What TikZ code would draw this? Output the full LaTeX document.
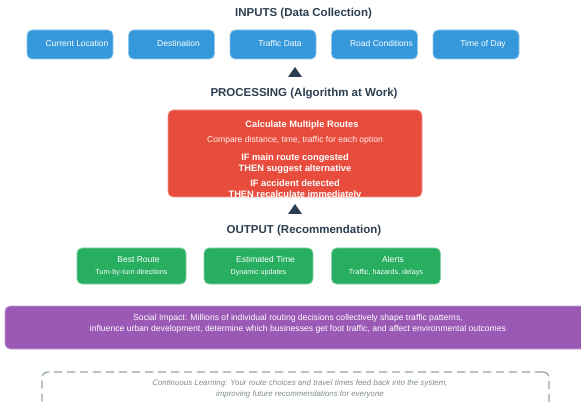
\documentclass[tikz,border=0pt]{standalone}
\usepackage{fontspec}
\setmainfont{Liberation Sans}
\usepackage{xcolor}
\definecolor{inblue}{HTML}{3498DB}
\definecolor{procred}{HTML}{E74C3C}
\definecolor{outgreen}{HTML}{27AE60}
\definecolor{impurple}{HTML}{9B59B6}
\definecolor{dark}{HTML}{2C3E50}
\definecolor{loopgray}{HTML}{95A5A6}
\definecolor{notegray}{HTML}{7F8C8D}
\usepackage{tikz}
\usetikzlibrary{
    arrows.meta,
    positioning,
    calc
}
\newcommand{\icongap}{\hspace*{14pt}}

\begin{document}
\begin{tikzpicture}[x=1pt, y=-1pt,
        stage/.style={font=\fontsize{11.5}{13}\selectfont\bfseries, text=dark},
        block/.style={rectangle, rounded corners=5pt, draw=#1!55!white, line width=0.8pt, fill=#1, text=white, align=center, inner sep=0pt},
        inbox/.style={block=inblue, minimum width=86pt, minimum height=29pt, text height=6.4pt, text depth=1.8pt, font=\fontsize{8.5}{10}\selectfont},
        outbox/.style={block=outgreen, minimum width=109pt, minimum height=36pt, font=\fontsize{8.5}{12}\selectfont},
        rulebold/.style={font=\fontsize{9.3}{11}\selectfont\bfseries, text=white, inner sep=0pt},
        note/.style={font=\fontsize{8.6}{10}\selectfont, text=white!92!procred, inner sep=0pt}
    ]
        \useasboundingbox (0,0) rectangle (581,406);

        % inputs
        \node[stage] (inputs) at (303.5,13.5) {INPUTS (Data Collection)};
        \foreach \name/\txt [count=\i] in {loc/Current Location, dest/Destination, traffic/Traffic Data, road/Road Conditions, tod/Time of Day}
            \node[inbox] (\name) at ({70+101.5*(\i-1)},44.5) {\icongap\txt};

        \coordinate (up1) at (295,72);
        \coordinate (up2) at (295,209);
        \foreach \c in {up1,up2}
            \fill[dark] ($(\c)+(0,-5)$) -- ($(\c)+(7,5)$) -- ($(\c)+(-7,5)$) -- cycle;

        % processing
        \node[stage] (processing) at (304,93.5) {PROCESSING (Algorithm at Work)};
        \node[block=procred, minimum width=254pt, minimum height=87pt] (proc) at (295,153.5) {};
        \node[rulebold] (calc) at (295,125.5) {\icongap Calculate Multiple Routes};
        \node[note] (compare) at (295,140.5) {Compare distance, time, traffic for each option};
        \node[rulebold] (rule1) at (295,158) {IF main route congested};
        \node[rulebold] (then1) at (295,169.5) {THEN suggest alternative};
        \node[rulebold] (rule2) at (295,183) {IF accident detected};
        \node[rulebold] (then2) at (295,195) {THEN recalculate immediately};

        % output
        \node[stage] (output) at (304,230.5) {OUTPUT (Recommendation)};
        \node[outbox] (best) at (131.5,266) {\icongap Best Route\\{\fontsize{7.2}{12}\selectfont Turn-by-turn directions}};
        \node[outbox] (eta) at (258.5,266) {\icongap Estimated Time\\{\fontsize{7.2}{12}\selectfont Dynamic updates}};
        \node[outbox] (alerts) at (386,266) {\icongap Alerts\\{\fontsize{7.2}{12}\selectfont Traffic, hazards, delays}};

        % impact and feedback
        \node[block=impurple, minimum width=586pt, minimum height=43pt] (impact) at (298,327.5) {};
        \node[align=center, text=white, inner sep=0pt, font=\fontsize{8.6}{10.5}\selectfont] (impacttext) at (298,324)
            {Social Impact: Millions of individual routing decisions collectively shape traffic patterns,\\
             influence urban development, determine which businesses get foot traffic, and affect environmental outcomes};
        \node[rectangle, rounded corners=6pt, draw=loopgray, line width=1.3pt, dash pattern=on 8pt off 5pt, minimum width=507pt, minimum height=48pt] (learn) at (295.5,396) {};
        \node[align=center, text=notegray, inner sep=0pt, font=\fontsize{7.9}{11}\selectfont\itshape] (learntext) at (300,389)
            {Continuous Learning: Your route choices and travel times feed back into the system,\\
             improving future recommendations for everyone};
    \end{tikzpicture}
\end{document}
